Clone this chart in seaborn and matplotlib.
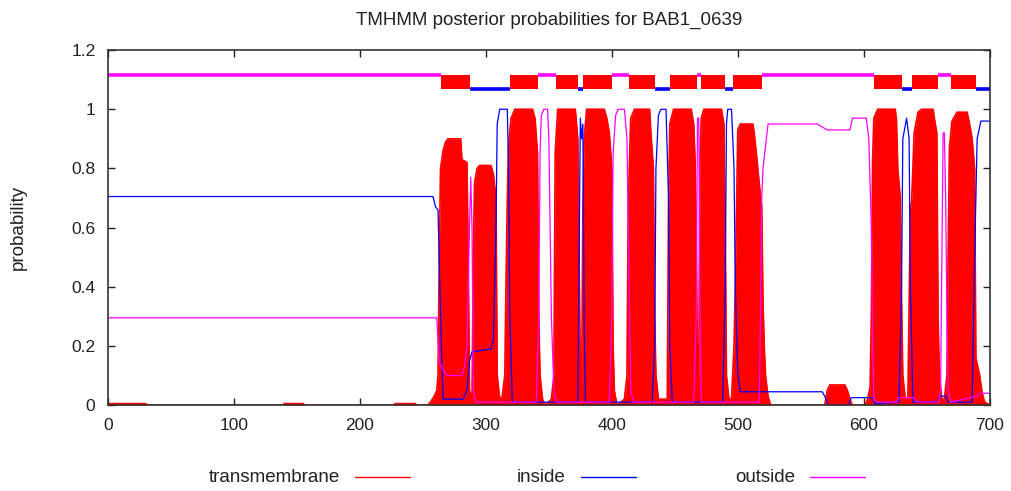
import matplotlib
matplotlib.use('Agg')
import matplotlib.pyplot as plt
from matplotlib.lines import Line2D
import seaborn as sns

# posterior probability curves as (residue, probability) knots
tm_x = [0, 30, 31, 139, 140, 155, 156, 227, 228, 244, 245, 254, 256, 259, 261, 262, 263, 264, 266, 268, 270, 280, 281, 285, 286, 287,
        289, 290, 291, 293, 295, 304, 306, 308, 309, 311,
        313, 315, 316, 317, 318, 320, 323, 337, 339, 341, 342, 343, 345, 347,
        352, 354, 355, 357, 371, 373, 374, 375,
        376, 377, 378, 380, 394, 396, 398, 400, 401, 402, 404,
        410, 412, 413, 414, 415, 418, 430, 431, 433, 434, 435, 437,
        444, 445, 446, 449, 463, 465, 466, 467, 468,
        469, 470, 471, 473, 487, 489, 490, 491, 493,
        495, 497, 498, 499, 500, 502, 512, 513, 515, 517, 519, 520, 521, 522, 524, 526,
        569, 571, 573, 585, 587, 589, 591,
        601, 603, 605, 606, 607, 608, 611, 625, 626, 627, 629, 630, 631, 633,
        635, 637, 638, 640, 643, 646, 655, 656, 658, 659, 660, 662,
        664, 666, 667, 668, 670, 674, 682, 684, 686, 688, 689, 692, 694, 696, 700]
tm_y = [0.005, 0.005, 0, 0, 0.005, 0.005, 0, 0, 0.005, 0.005, 0, 0, 0.01, 0.03, 0.05, 0.1, 0.5, 0.8, 0.86, 0.89, 0.9, 0.9, 0.83, 0.82, 0.5, 0.05,
        0.02, 0.5, 0.75, 0.8, 0.81, 0.81, 0.78, 0.7, 0.1, 0.02,
        0.03, 0.1, 0.42, 0.69, 0.88, 0.97, 1.0, 1.0, 0.97, 0.85, 0.3, 0.1, 0.02, 0,
        0.02, 0.1, 0.85, 1.0, 1.0, 0.9, 0.5, 0.1,
        0.05, 0.67, 0.9, 1.0, 1.0, 0.97, 0.92, 0.8, 0.2, 0.05, 0,
        0.02, 0.1, 0.68, 0.83, 0.97, 1.0, 1.0, 0.92, 0.8, 0.3, 0.1, 0.02,
        0.02, 0.67, 0.95, 1.0, 1.0, 0.95, 0.84, 0.6, 0.1,
        0.1, 0.84, 0.97, 1.0, 1.0, 0.95, 0.6, 0.1, 0.02,
        0.02, 0.2, 0.41, 0.66, 0.93, 0.95, 0.95, 0.92, 0.84, 0.75, 0.67, 0.35, 0.2, 0.1, 0.03, 0,
        0, 0.05, 0.068, 0.068, 0.05, 0.02, 0,
        0, 0.02, 0.06, 0.3, 0.83, 0.97, 1.0, 1.0, 0.96, 0.8, 0.7, 0.35, 0.1, 0.02,
        0.02, 0.66, 0.69, 0.92, 0.99, 1.0, 1.0, 0.97, 0.92, 0.3, 0.1, 0.02,
        0.02, 0.1, 0.53, 0.87, 0.96, 0.99, 0.99, 0.95, 0.9, 0.8, 0.16, 0.1, 0.04, 0.01, 0]

in_x = [0, 258, 260, 262, 264, 266, 282, 285, 287, 289, 304, 306, 308, 309, 311, 317, 318, 319, 321,
        373, 374, 375, 376, 377, 378, 379,
        432, 434, 435, 437, 439, 443, 445, 446, 448,
        488, 490, 491, 492, 495, 497, 498, 500, 502, 567, 569, 572, 588, 590, 607, 609,
        628, 630, 631, 634, 636, 637, 639,
        658, 660, 663, 665, 667, 686, 688, 690, 693, 700]
in_y = [0.705, 0.705, 0.67, 0.66, 0.3, 0.02, 0.02, 0.05, 0.15, 0.18, 0.19, 0.22, 0.6, 0.95, 1.0, 1.0, 0.8, 0.3, 0.01,
        0.01, 0.5, 0.97, 0.9, 0.95, 0.3, 0.01,
        0.01, 0.2, 0.8, 0.98, 1.0, 1.0, 0.7, 0.2, 0.01,
        0.01, 0.4, 0.95, 1.0, 1.0, 0.8, 0.4, 0.1, 0.045, 0.045, 0.03, 0.0, 0.0, 0.025, 0.025, 0.005,
        0.01, 0.4, 0.9, 0.97, 0.9, 0.4, 0.01,
        0.01, 0.03, 0.03, 0.03, 0.01, 0.01, 0.5, 0.9, 0.96, 0.96]

out_x = [0, 261, 263, 265, 268, 270, 281, 283, 285, 287, 288, 289, 290, 292,
         340, 342, 343, 344, 346, 349, 350, 351, 352, 354, 356,
         398, 400, 401, 403, 405, 410, 412, 413, 415, 417,
         465, 467, 468, 469, 470, 471,
         517, 518, 519, 520, 524, 563, 565, 571, 589, 591, 602, 604, 606, 607, 608, 610,
         626, 628, 640, 642,
         659, 661, 662, 663, 664, 665, 666, 667, 669, 690, 692, 700]
out_y = [0.295, 0.295, 0.14, 0.13, 0.105, 0.1, 0.1, 0.13, 0.2, 0.6, 0.77, 0.6, 0.05, 0.01,
         0.01, 0.3, 0.85, 0.98, 1.0, 1.0, 0.9, 0.6, 0.3, 0.05, 0.01,
         0.01, 0.3, 0.85, 0.98, 1.0, 1.0, 0.9, 0.6, 0.05, 0.01,
         0.01, 0.3, 0.97, 0.97, 0.3, 0.01,
         0.01, 0.3, 0.7, 0.8, 0.95, 0.95, 0.945, 0.93, 0.93, 0.97, 0.97, 0.9, 0.6, 0.2, 0.02, 0.01,
         0.01, 0.025, 0.025, 0.01,
         0.01, 0.05, 0.5, 0.92, 0.92, 0.7, 0.3, 0.05, 0.01, 0.03, 0.04, 0.04]

# predicted topology bar along the top
tm_start = [264, 319, 356, 377, 414, 446, 471, 496, 608, 638, 669]
tm_end = [287, 341, 373, 400, 434, 468, 490, 519, 630, 659, 689]
inside_start = [287, 373, 434, 490, 630, 689]
inside_end = [319, 377, 446, 496, 638, 700]
outside_start = [0, 341, 400, 468, 519, 659]
outside_end = [264, 356, 414, 471, 608, 669]

sns.set_style('ticks')
plt.rcParams['font.family'] = ['Liberation Sans', 'DejaVu Sans']

fig, ax = plt.subplots(figsize=(10.12, 4.91), dpi=100)
fig.subplots_adjust(left=0.1067, right=0.978, top=0.898, bottom=0.175)

# transmembrane drawn as a filled profile
ax.fill_between(tm_x, 0, tm_y, color='red', linewidth=0)
sns.lineplot(x=tm_x, y=tm_y, color='red', linewidth=1.2, ax=ax, sort=False, estimator=None)
sns.lineplot(x=in_x, y=in_y, color='#0000ff', linewidth=0.9, ax=ax, sort=False, estimator=None)
sns.lineplot(x=out_x, y=out_y, color='#ff00ff', linewidth=0.9, ax=ax, sort=False, estimator=None)

# topology bar
ax.hlines([1.115] * len(outside_start), outside_start, outside_end, color='#ff00ff', linewidth=2.6)
ax.hlines([1.07] * len(inside_start), inside_start, inside_end, color='#0000ff', linewidth=2.6)
ax.broken_barh([(s, e - s) for s, e in zip(tm_start, tm_end)], (1.067, 0.05), color='red', linewidth=0)

ax.set_xlim(0, 700)
ax.set_ylim(0, 1.2)
ax.set_xticks([0, 100, 200, 300, 400, 500, 600, 700])
ax.set_yticks([0, 0.2, 0.4, 0.6, 0.8, 1.0, 1.2])
ax.set_yticklabels(['0', '0.2', '0.4', '0.6', '0.8', '1', '1.2'])
ax.tick_params(direction='in', length=5, width=1, top=True, right=True, labelsize=12.5, colors='#222222', pad=9)
for sp in ax.spines.values():
    sp.set_visible(True)
    sp.set_linewidth(1.2)
    sp.set_color('#333333')

ax.set_title('TMHMM posterior probabilities for BAB1_0639', fontsize=13.5, color='#222222', pad=18)
ax.set_ylabel('probability', fontsize=13.5, color='#222222', labelpad=32)
ax.set_xlabel('')

# legend laid out like the gnuplot key: text right-aligned, then a short line
legend_labels = ['transmembrane', 'inside', 'outside']
legend_colors = ['red', '#0000ff', '#ff00ff']
key_text_right = [340, 566, 795]
for lab, col, xr in zip(legend_labels, legend_colors, key_text_right):
    fig.text(xr / 1012, 1 - 477 / 491, lab, ha='right', va='center', fontsize=13.5, color='#222222')
    fig.add_artist(Line2D([(xr + 15) / 1012, (xr + 70) / 1012], [1 - 477 / 491] * 2,
                          color=col, linewidth=1, transform=fig.transFigure))

plt.savefig('out.png', dpi=100)
